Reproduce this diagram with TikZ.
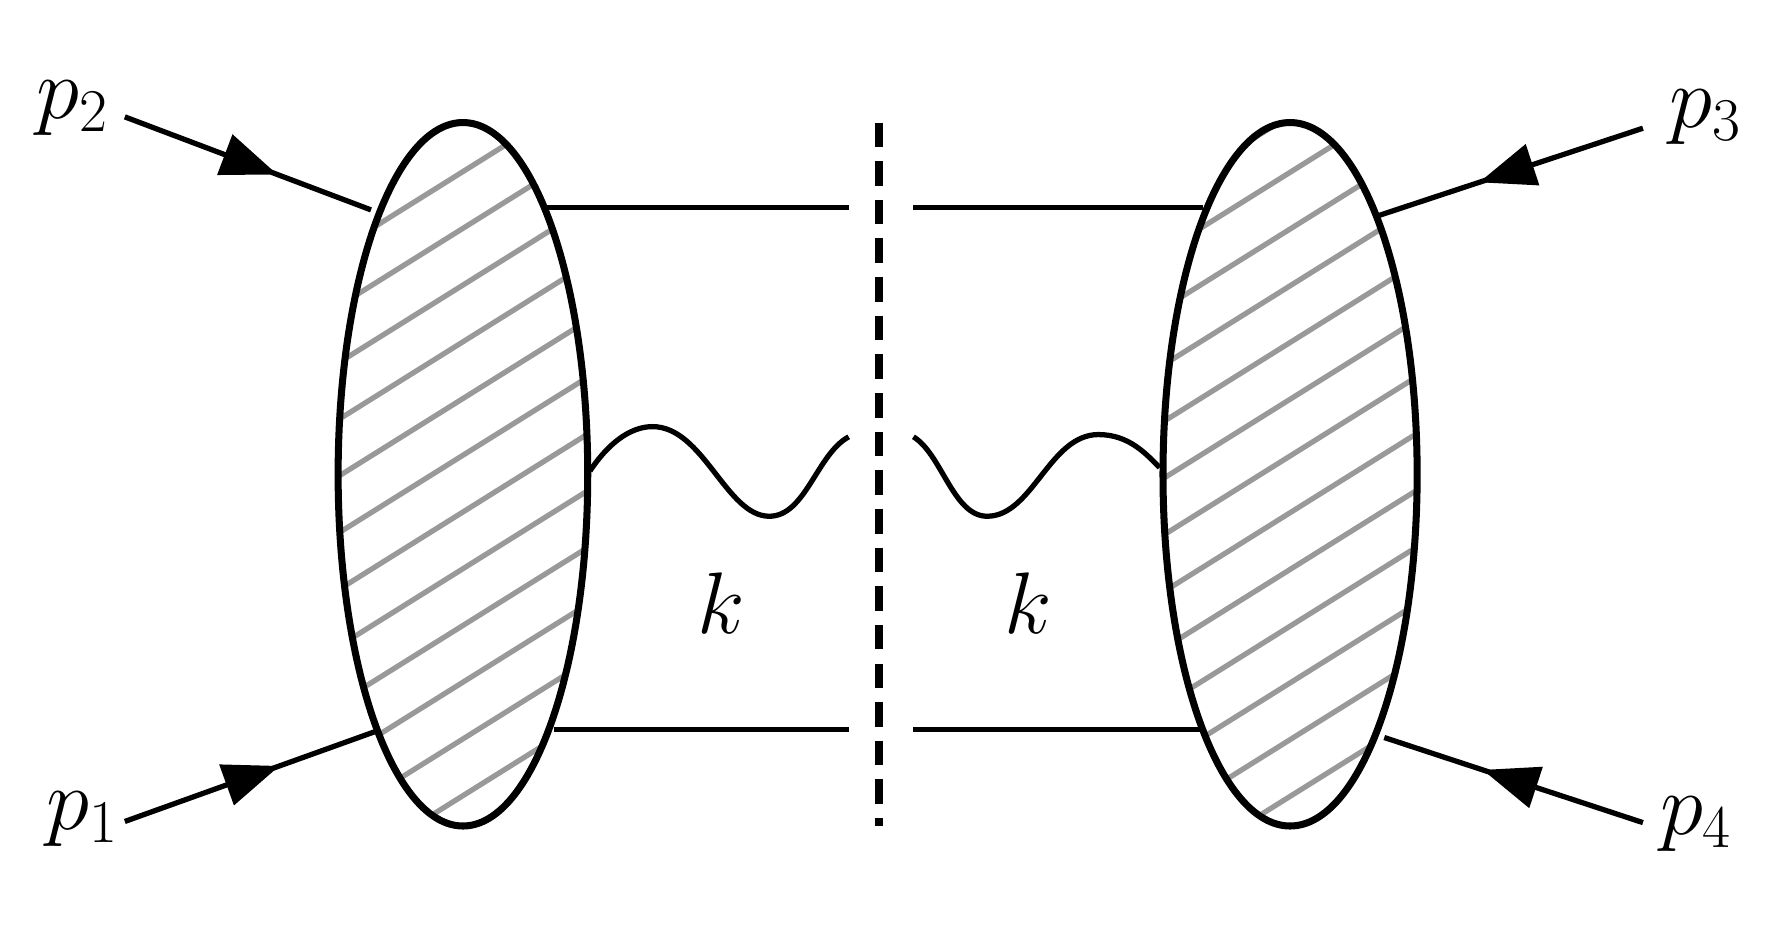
\documentclass[tikz,border=0pt]{standalone}
\usetikzlibrary{decorations.markings,arrows.meta}
\begin{document}
\begin{tikzpicture}[x=0.011346cm,y=-0.011346cm,
  blob/.style={line width=2pt},
  hatch/.style={gray!80,line width=1.5pt},
  prop/.style={line width=1.5pt},
  ext/.style={line width=1.5pt,postaction={decorate},decoration={markings,mark=at position 0.62 with {\arrow{Triangle[length=16pt,width=12pt]}}}},
  lab/.style={font=\fontsize{25}{30}\selectfont}]
\useasboundingbox (0,0) rectangle (1560,821);
% hatching
\begin{scope}
\clip (408,418) ellipse [x radius=110, y radius=310];
\foreach \i in {-10,...,20} \draw[hatch] (250,{\i*50+200}) -- ++(320,-200);
\end{scope}
\begin{scope}
\clip (1137,418) ellipse [x radius=112, y radius=310];
\foreach \i in {-10,...,20} \draw[hatch] (980,{\i*50+200}) -- ++(320,-200);
\end{scope}
\draw[blob] (408,418) ellipse [x radius=110, y radius=310];
\draw[blob] (1137,418) ellipse [x radius=112, y radius=310];
\coordinate (a1) at (480,183); \coordinate (a2) at (748,183);
\coordinate (a3) at (805,183); \coordinate (a4) at (1060,183);
\coordinate (b1) at (488,643); \coordinate (b2) at (748,643);
\coordinate (b3) at (805,643); \coordinate (b4) at (1058,643);
\draw[prop] (a1)--(a2) (a3)--(a4) (b1)--(b2) (b3)--(b4);
\coordinate (c1) at (775,108); \coordinate (c2) at (775,728);
\draw[line width=2.2pt,dash pattern=on 7pt off 4pt] (c1)--(c2);
\draw[prop] (520,415) .. controls (540,385) and (560,376) .. (575,376)
  .. controls (620,376) and (640,455) .. (678,455)
  .. controls (710,455) and (720,400) .. (748,385);
\draw[prop] (805,385) .. controls (830,400) and (840,455) .. (870,455)
  .. controls (910,455) and (925,383) .. (968,383)
  .. controls (995,383) and (1010,400) .. (1022,412);
\node[lab] (k1) at (636,532) {$k$};
\node[lab] (k2) at (906,532) {$k$};
\coordinate (q2) at (110,103); \coordinate (e2) at (327,185);
\coordinate (q1) at (110,724); \coordinate (e1) at (330,645);
\coordinate (q3) at (1448,113); \coordinate (e3) at (1215,190);
\coordinate (q4) at (1448,725); \coordinate (e4) at (1220,650);
\draw[ext] (q2)--(e2); \draw[ext] (q1)--(e1);
\draw[ext] (q3)--(e3); \draw[ext] (q4)--(e4);
\node[lab] (p2) at (64,95) {$p_2$};
\node[lab] (p1) at (73,722) {$p_1$};
\node[lab] (p3) at (1503,103) {$p_3$};
\node[lab] (p4) at (1495,726) {$p_4$};
\end{tikzpicture}
\end{document}
